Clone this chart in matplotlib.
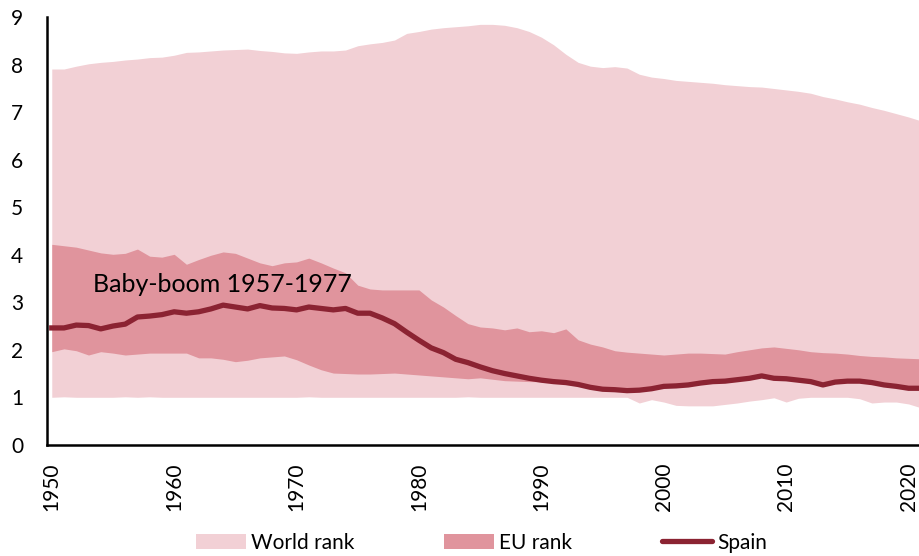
import matplotlib
matplotlib.use("Agg")
import matplotlib.pyplot as plt
from matplotlib.patches import Patch
from matplotlib.lines import Line2D

plt.rcParams['font.family'] = ['Lato', 'DejaVu Sans']

years = list(range(1950, 2022))

# world rank band (min / max)
world_hi = [7.91, 7.91, 7.97, 8.02, 8.05, 8.07, 8.10, 8.12, 8.15, 8.16,
            8.20, 8.26, 8.27, 8.29, 8.31, 8.32, 8.33, 8.30, 8.28, 8.25,
            8.24, 8.27, 8.29, 8.29, 8.31, 8.40, 8.44, 8.47, 8.52, 8.66,
            8.70, 8.75, 8.78, 8.80, 8.82, 8.85, 8.85, 8.83, 8.78, 8.70,
            8.58, 8.42, 8.22, 8.05, 7.97, 7.94, 7.96, 7.93, 7.80, 7.74,
            7.71, 7.67, 7.65, 7.63, 7.61, 7.58, 7.56, 7.54, 7.53, 7.50,
            7.47, 7.44, 7.40, 7.33, 7.28, 7.22, 7.17, 7.10, 7.04, 6.97,
            6.90, 6.82]
world_lo = [1.00, 1.01, 1.00, 1.00, 1.00, 1.00, 1.01, 1.00, 1.01, 1.00,
            1.00, 1.00, 1.00, 1.00, 1.00, 1.00, 1.00, 1.00, 1.00, 1.00,
            1.00, 1.01, 1.00, 1.00, 1.00, 1.00, 1.00, 1.00, 1.00, 1.00,
            1.00, 1.00, 1.00, 1.00, 1.01, 1.00, 1.00, 1.00, 1.00, 1.00,
            1.00, 1.00, 1.00, 1.00, 1.00, 1.00, 1.00, 1.00, 0.88, 0.95,
            0.90, 0.83, 0.82, 0.82, 0.82, 0.85, 0.88, 0.92, 0.95, 0.99,
            0.90, 0.98, 1.00, 1.00, 1.00, 1.00, 0.97, 0.88, 0.90, 0.90,
            0.86, 0.78]

# EU rank band
eu_hi = [4.22, 4.19, 4.16, 4.10, 4.04, 4.01, 4.03, 4.12, 3.97, 3.95,
         4.01, 3.80, 3.90, 3.99, 4.06, 4.03, 3.93, 3.83, 3.77, 3.83,
         3.85, 3.93, 3.83, 3.72, 3.62, 3.36, 3.28, 3.26, 3.26, 3.26,
         3.26, 3.05, 2.90, 2.72, 2.55, 2.48, 2.46, 2.42, 2.46, 2.38,
         2.40, 2.36, 2.44, 2.21, 2.12, 2.06, 1.98, 1.95, 1.93, 1.91,
         1.89, 1.91, 1.93, 1.93, 1.92, 1.91, 1.96, 2.00, 2.04, 2.06,
         2.03, 2.00, 1.96, 1.94, 1.93, 1.91, 1.88, 1.86, 1.85, 1.83,
         1.82, 1.81]
eu_lo = [1.96, 2.02, 1.98, 1.89, 1.96, 1.93, 1.89, 1.91, 1.93, 1.93,
         1.93, 1.93, 1.83, 1.83, 1.80, 1.75, 1.78, 1.83, 1.85, 1.87,
         1.79, 1.68, 1.58, 1.51, 1.50, 1.49, 1.49, 1.50, 1.51, 1.49,
         1.47, 1.45, 1.43, 1.41, 1.39, 1.41, 1.38, 1.35, 1.34, 1.33,
         1.33, 1.32, 1.30, 1.26, 1.20, 1.17, 1.16, 1.14, 1.15, 1.18,
         1.23, 1.24, 1.26, 1.30, 1.33, 1.34, 1.37, 1.40, 1.45, 1.40,
         1.39, 1.36, 1.33, 1.26, 1.32, 1.34, 1.34, 1.31, 1.26, 1.23,
         1.19, 1.19]

spain = [2.46, 2.46, 2.52, 2.51, 2.44, 2.50, 2.54, 2.69, 2.71, 2.74,
         2.80, 2.77, 2.80, 2.86, 2.94, 2.90, 2.86, 2.93, 2.88, 2.87,
         2.84, 2.90, 2.87, 2.84, 2.87, 2.77, 2.77, 2.67, 2.55, 2.37,
         2.20, 2.04, 1.94, 1.80, 1.73, 1.64, 1.56, 1.50, 1.45, 1.40,
         1.36, 1.33, 1.31, 1.27, 1.21, 1.17, 1.16, 1.14, 1.15, 1.18,
         1.23, 1.24, 1.26, 1.30, 1.33, 1.34, 1.37, 1.40, 1.45, 1.40,
         1.39, 1.36, 1.33, 1.26, 1.32, 1.34, 1.34, 1.31, 1.26, 1.23,
         1.19, 1.19]

c_world = '#f2d0d5'
c_eu = '#e0949d'
c_spain = '#8b2332'

fig = plt.figure(figsize=(9.19, 5.56), dpi=100)
ax = fig.add_axes([0.051, 0.2, 0.949, 0.769])

ax.fill_between(years, world_lo, world_hi, color=c_world, lw=0)
ax.fill_between(years, eu_lo, eu_hi, color=c_eu, lw=0)
ax.plot(years, spain, color=c_spain, lw=3.8)

ax.text(1953.4, 3.37, 'Baby-boom 1957-1977', fontsize=18, ha='left', va='center')

ax.set_xlim(1949.6, 2020.85)
ax.set_ylim(0, 9)
ax.set_xticks(range(1950, 2021, 10))
ax.set_yticks(range(0, 10))
ax.tick_params(axis='x', length=0, pad=13, labelsize=15, labelrotation=90)
ax.tick_params(axis='y', length=0, pad=17, labelsize=15)

ax.spines['top'].set_visible(False)
ax.spines['right'].set_visible(False)
ax.spines['left'].set_linewidth(1.8)
ax.spines['bottom'].set_linewidth(1.8)

handles = [Patch(color=c_world, lw=0), Patch(color=c_eu, lw=0),
           Line2D([0], [0], color=c_spain, lw=3.8, solid_capstyle='round')]
fig.legend(handles, ['World rank', 'EU rank', 'Spain'], loc='center',
           bbox_to_anchor=(0.524, 0.024), ncol=3, frameon=False, fontsize=15,
           handlelength=2.4, handletextpad=0.25, columnspacing=4.3)

plt.savefig('out.png', dpi=100)
